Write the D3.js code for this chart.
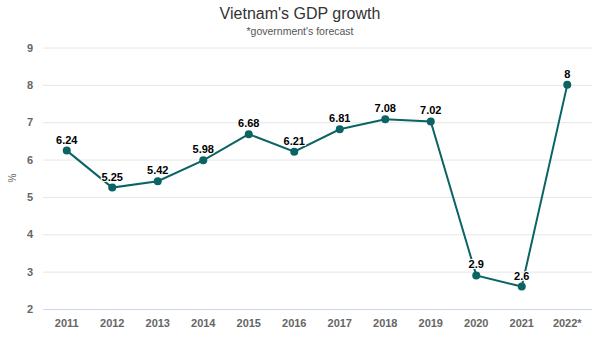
<!DOCTYPE html>
<html>
<head>
<meta charset="utf-8">
<script src="https://cdn.jsdelivr.net/npm/d3@7"></script>
<style>
  body { margin: 0; background: #fff; }
  svg { font-family: "Liberation Sans", Arial, sans-serif; }
</style>
</head>
<body>
<svg id="chart" width="600" height="339"></svg>
<script>
const years = ['2011', '2012', '2013', '2014', '2015', '2016', '2017', '2018', '2019', '2020', '2021', '2022*'];
const growth = [6.24, 5.25, 5.42, 5.98, 6.68, 6.21, 6.81, 7.08, 7.02, 2.9, 2.6, 8];
const yTicks = [2, 3, 4, 5, 6, 7, 8, 9];

const lineColor = '#0b6363';

const svg = d3.select('#chart');

const x = d3.scaleBand().domain(years).range([44, 590]);
const y = d3.scaleLinear().domain([2, 9]).range([309, 47.5]);

// title
svg.append('text')
    .attr('x', 300).attr('y', 19)
    .attr('text-anchor', 'middle')
    .style('font-size', '16px')
    .style('fill', '#333')
    .text("Vietnam's GDP growth");

svg.append('text')
    .attr('x', 300).attr('y', 35)
    .attr('text-anchor', 'middle')
    .style('font-size', '10.5px')
    .style('fill', '#555')
    .text("*government's forecast");

// horizontal grid + y labels
const yAxis = svg.append('g')
    .attr('transform', 'translate(43,0)')
    .call(d3.axisLeft(y).tickValues(yTicks).tickSize(-549).tickPadding(10).tickFormat(d3.format('d')));
yAxis.select('.domain').remove();
yAxis.selectAll('.tick line').attr('stroke', '#e6e6e6');
yAxis.selectAll('.tick text')
    .style('font-size', '11px').style('font-weight', 'bold').style('fill', '#666')
    .attr('x', -10);
yAxis.select('.tick:first-of-type line').attr('stroke', '#ccd6eb');

svg.append('text')
    .attr('transform', 'translate(16,178) rotate(-90)')
    .attr('text-anchor', 'middle')
    .style('font-size', '10px')
    .style('fill', '#666')
    .text('%');

// x labels
const xAxis = svg.append('g')
    .attr('transform', 'translate(0,309)')
    .call(d3.axisBottom(x).tickSize(0).tickPadding(10));
xAxis.select('.domain').remove();
xAxis.selectAll('.tick text')
    .style('font-size', '11px').style('font-weight', 'bold').style('fill', '#666');

const cx = d => x(d) + x.bandwidth() / 2;

// series line
svg.append('path')
    .datum(years)
    .attr('fill', 'none')
    .attr('stroke', lineColor)
    .attr('stroke-width', 2)
    .attr('d', d3.line().x(d => cx(d)).y((d, i) => y(growth[i])));

svg.selectAll('circle.pt')
    .data(years)
    .join('circle')
    .attr('class', 'pt')
    .attr('cx', d => cx(d))
    .attr('cy', (d, i) => y(growth[i]))
    .attr('r', 4)
    .attr('fill', lineColor);

// value labels
svg.selectAll('text.val')
    .data(years)
    .join('text')
    .attr('class', 'val')
    .attr('x', d => cx(d))
    .attr('y', (d, i) => y(growth[i]) - 7)
    .attr('text-anchor', 'middle')
    .style('font-size', '11px')
    .style('font-weight', 'bold')
    .style('fill', '#000')
    .style('stroke', '#fff')
    .style('stroke-width', '2px')
    .style('paint-order', 'stroke')
    .text((d, i) => growth[i]);
</script>
</body>
</html>
